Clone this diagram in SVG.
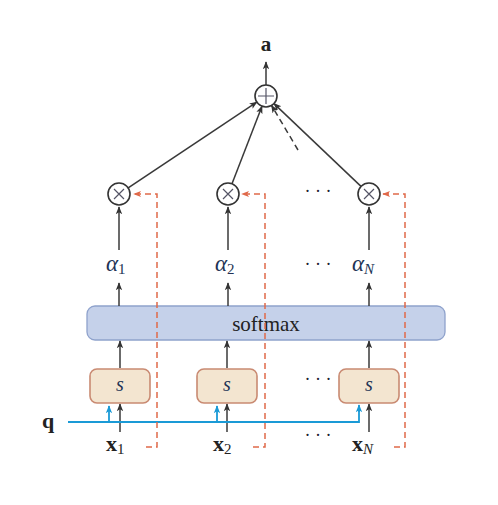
<svg xmlns="http://www.w3.org/2000/svg" width="498" height="505" viewBox="0 0 498 505">
<defs>
<marker id="ah" viewBox="0 0 10 10" refX="9" refY="5" markerWidth="8" markerHeight="8" orient="auto" markerUnits="userSpaceOnUse"><path d="M0,1 L10,5 L0,9 L2.5,5 Z" fill="#333"/></marker>
<marker id="ahr" viewBox="0 0 10 10" refX="9" refY="5" markerWidth="8" markerHeight="8" orient="auto" markerUnits="userSpaceOnUse"><path d="M0,1 L10,5 L0,9 L2.5,5 Z" fill="#e0694a"/></marker>
<marker id="ahb" viewBox="0 0 10 10" refX="9" refY="5" markerWidth="8" markerHeight="8" orient="auto" markerUnits="userSpaceOnUse"><path d="M0,1 L10,5 L0,9 L2.5,5 Z" fill="#1a9ad6"/></marker>
<style>
.a{stroke:#3a3a3a;stroke-width:1.5;fill:none;marker-end:url(#ah)}
.r{stroke:#e0694a;stroke-width:1.5;fill:none;stroke-dasharray:6 4}
.b{stroke:#1a9ad6;stroke-width:1.8;fill:none}
.op{fill:#fff;stroke:#333;stroke-width:1.6}
.sym{stroke:#556;stroke-width:1.2}
.t{font-family:"Liberation Serif",serif;fill:#222}
.m{font-family:"Liberation Serif",serif;font-style:italic;fill:#223355}
.sb{fill:#f3e5d0;stroke:#c98a72;stroke-width:1.6}
.dots{font-family:"Liberation Serif",serif;fill:#223;font-size:18px}
</style>
</defs>
<g id="softmax">
<rect x="87" y="306" width="358" height="34" rx="8" fill="#c5d1ea" stroke="#8fa2cc" stroke-width="1.3"/>
<text class="t" x="266" y="331" font-size="21" text-anchor="middle">softmax</text>
</g>
<g id="connectors">
<path class="a" d="M266,85 L266,62"/>
<path class="a" d="M128.2,187.9 L256.8,102.1"/>
<path class="a" d="M232,183.7 L262,106.3"/>
<path class="a" d="M361,186.4 L274,103.6"/>
<path class="a" d="M298,150 L271.6,105.5" stroke-dasharray="6 4"/>
<path class="a" d="M119,250 L119,207"/>
<path class="a" d="M228,250 L228,207"/>
<path class="a" d="M369,250 L369,207"/>
<path class="a" d="M119,306 L119,283"/>
<path class="a" d="M228,306 L228,283"/>
<path class="a" d="M369,306 L369,283"/>
<path class="a" d="M120,368 L120,341"/>
<path class="a" d="M227,368 L227,341"/>
<path class="a" d="M369,368 L369,341"/>
<path class="a" d="M120,432 L120,404"/>
<path class="a" d="M227,432 L227,404"/>
<path class="a" d="M369,432 L369,404"/>
<path class="b" d="M68,422 L359,422 L359,406"/>
<path class="b" d="M109,422 L109,406" marker-end="url(#ahb)"/>
<path class="b" d="M217,422 L217,406" marker-end="url(#ahb)"/>
<path class="b" d="M359,412 L359,405" marker-end="url(#ahb)"/>
<path class="r" d="M146,447 L157,447 L157,194 L134,194" marker-end="url(#ahr)"/>
<path class="r" d="M253,447 L265,447 L265,194 L242,194" marker-end="url(#ahr)"/>
<path class="r" d="M394,447 L405,447 L405,194 L383,194" marker-end="url(#ahr)"/>
</g>
<g id="a-label"><text class="t" x="266" y="51" font-size="21" font-weight="bold" text-anchor="middle">a</text></g>
<g id="plus">
<circle class="op" cx="266" cy="96" r="11"/>
<path class="sym" d="M258,96 H274 M266,88 V104"/>
</g>
<g id="times1"><circle class="op" cx="119" cy="194" r="11"/><path class="sym" d="M114,189 L124,199 M124,189 L114,199"/></g>
<g id="times2"><circle class="op" cx="228" cy="194" r="11"/><path class="sym" d="M223,189 L233,199 M233,189 L223,199"/></g>
<g id="timesN"><circle class="op" cx="369" cy="194" r="11"/><path class="sym" d="M364,189 L374,199 M374,189 L364,199"/></g>
<g id="alpha1"><text class="m" x="106" y="271" font-size="23">α<tspan font-style="normal" font-size="15" dy="3">1</tspan></text></g>
<g id="alpha2"><text class="m" x="215" y="271" font-size="23">α<tspan font-style="normal" font-size="15" dy="3">2</tspan></text></g>
<g id="alphaN"><text class="m" x="352" y="271" font-size="23">α<tspan font-size="15" dy="3">N</tspan></text></g>
<g id="s1"><rect class="sb" x="90" y="369" width="60" height="34" rx="7"/><text class="m" x="120" y="391" font-size="20" text-anchor="middle">s</text></g>
<g id="s2"><rect class="sb" x="197" y="369" width="60" height="34" rx="7"/><text class="m" x="227" y="391" font-size="20" text-anchor="middle">s</text></g>
<g id="sN"><rect class="sb" x="339" y="369" width="60" height="34" rx="7"/><text class="m" x="369" y="391" font-size="20" text-anchor="middle">s</text></g>
<g id="q"><text class="t" x="42" y="428" font-size="22" font-weight="bold">q</text></g>
<g id="x1"><text class="t" x="106" y="451" font-size="22" font-weight="bold">x<tspan font-weight="normal" font-size="15" dy="3">1</tspan></text></g>
<g id="x2"><text class="t" x="213" y="451" font-size="22" font-weight="bold">x<tspan font-weight="normal" font-size="15" dy="3">2</tspan></text></g>
<g id="xN"><text class="t" x="352" y="451" font-size="22" font-weight="bold">x<tspan font-weight="normal" font-style="italic" font-size="15" dy="3">N</tspan></text></g>
<g id="dots">
<text class="dots" x="318" y="197" text-anchor="middle">· · ·</text>
<text class="dots" x="318" y="270" text-anchor="middle">· · ·</text>
<text class="dots" x="318" y="385" text-anchor="middle">· · ·</text>
<text class="dots" x="318" y="441" text-anchor="middle">· · ·</text>
</g>
</svg>
